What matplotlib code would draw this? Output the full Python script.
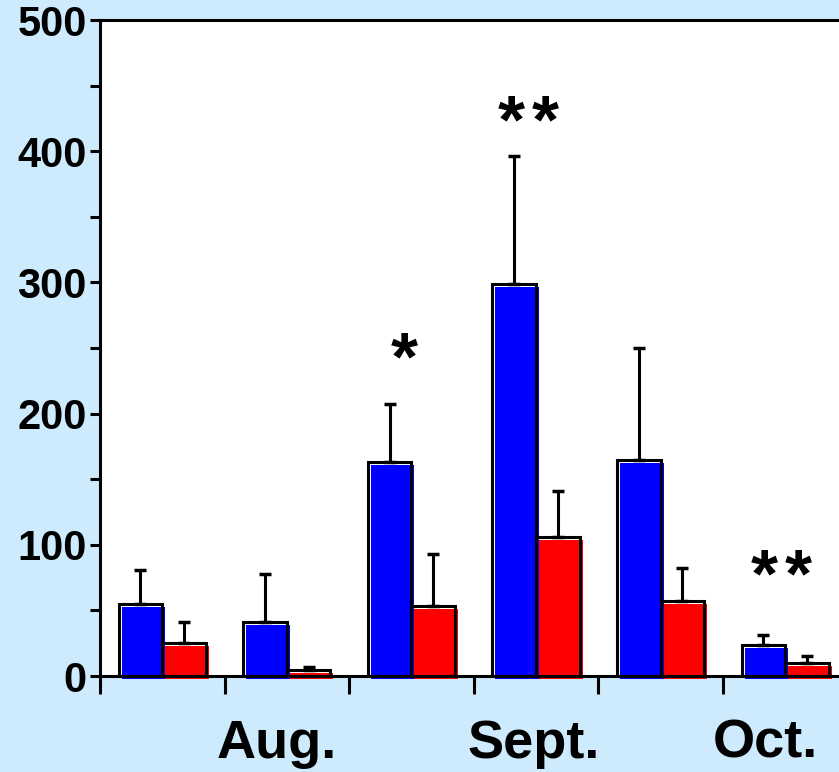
import matplotlib
matplotlib.use("Agg")
import matplotlib.pyplot as plt
import matplotlib.transforms as mtransforms
import numpy as np

plt.rcParams["font.family"] = ["Liberation Sans", "DejaVu Sans"]
plt.rcParams["font.weight"] = "bold"

# Group means (upper error only) for the six sampling periods
blue_vals = [55, 41, 163, 299, 165, 24]
blue_err = [26, 37, 44, 97, 85, 7]
red_vals = [25, 4.5, 53, 106, 57, 10]
red_err = [16, 2, 40, 35, 25, 5]

month_labels = ["Aug.", "Sept.", "Oct."]
month_pos = [0.92, 2.98, 4.84]

# significance marks: number of stars, x centre, baseline height
star_count = [1, 2, 2]
star_x = [1.94, 2.94, 4.97]
star_y = [226, 407, 61]

BG = "#cdebfc"
W = 0.35

fig = plt.figure(figsize=(8.39, 7.72), dpi=100, facecolor=BG)
ax = fig.add_axes([100 / 839, 1 - 676 / 772, 1 - 100 / 839 + 0.01, (676 - 20) / 772])
ax.set_facecolor("white")

x = np.arange(len(blue_vals))
xb = x - W / 2
xr = x + W / 2

# coloured fill shifted right/down, black outline on top
shift = ax.transData + mtransforms.ScaledTranslation(0.03, -0.03, fig.dpi_scale_trans)
for xs, vals, errs, col in [(xb, blue_vals, blue_err, "#0000ff"), (xr, red_vals, red_err, "#ff0000")]:
    ax.errorbar(xs, vals, yerr=[np.zeros(len(vals)), errs],
                fmt="none", ecolor="black", elinewidth=2.2, capsize=4, capthick=2.5, zorder=1)
    fills = ax.bar(xs, vals, W, color=col, linewidth=0, zorder=2)
    for p in fills:
        p.set_transform(shift)
        p.set_clip_on(False)
    ax.bar(xs, vals, W, facecolor="none", edgecolor="black", linewidth=2.2, zorder=3)

ax.set_xlim(-0.5, 5.5)
ax.set_ylim(0, 500)

ax.spines["right"].set_visible(False)
for s in ["left", "top", "bottom"]:
    ax.spines[s].set_linewidth(2.2)

ax.set_yticks(np.arange(0, 501, 100))
ax.set_yticks(np.arange(50, 500, 100), minor=True)
ax.tick_params(axis="y", which="both", length=7.5, width=2.2, labelsize=30, pad=2)

ax.set_xticks(np.arange(-0.5, 5.0, 1.0))
ax.set_xticklabels([])
ax.tick_params(axis="x", which="major", length=13, width=2.2)

trans = mtransforms.blended_transform_factory(ax.transData, fig.transFigure)
for pos, lab in zip(month_pos, month_labels):
    ax.text(pos, 1 - 758 / 772, lab, transform=trans, ha="center", va="baseline",
            fontsize=39, fontweight="bold", clip_on=False)

gap = 0.135
for n, sx, sy in zip(star_count, star_x, star_y):
    offsets = [0.0] if n == 1 else [-gap, gap]
    for off in offsets:
        ax.text(sx + off, sy, "*", ha="center", va="baseline", fontsize=50, fontweight="bold")

fig.savefig("out.png", dpi=100, facecolor=BG)
